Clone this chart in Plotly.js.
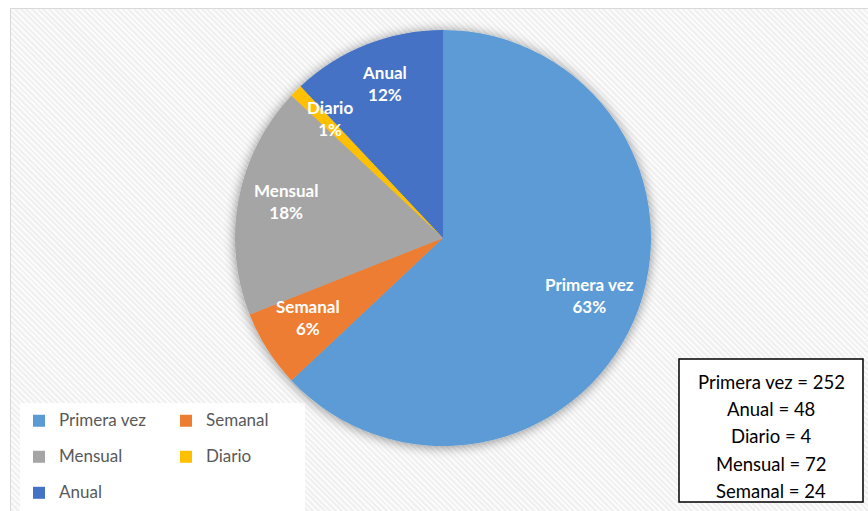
<!DOCTYPE html>
<html>
<head>
<meta charset="utf-8">
<script src="https://cdn.plot.ly/plotly-3.0.1.min.js"></script>
<style>
  html, body { margin: 0; padding: 0; width: 868px; height: 511px; overflow: hidden; background: #ffffff; }
  #bg {
    position: absolute; left: 10px; top: 8px; width: 870px; height: 515px;
    border-top: 1px solid #d9d9d9; border-left: 1px solid #d9d9d9;
    background: repeating-linear-gradient(45deg, #fbfbfb 0px, #fbfbfb 2px, #f0f0f0 2px, #f0f0f0 4px);
  }
  #chart { position: absolute; left: 0; top: 0; width: 868px; height: 511px; }
</style>
</head>
<body>
<div id="bg"></div>
<div id="chart"></div>
<script>
// ---- data ----
const categories = ['Primera vez', 'Semanal', 'Mensual', 'Diario', 'Anual'];
const counts = [252, 24, 72, 4, 48];
const colors = ['#5B9BD5', '#ED7D31', '#A5A5A5', '#FFC000', '#4472C4'];
const boxOrder = ['Primera vez', 'Anual', 'Diario', 'Mensual', 'Semanal'];

// ---- layout helpers (pixel -> paper) ----
const W = 868, H = 511;
const M = { l: 235, r: 217, t: 30, b: 65 };
const PW = W - M.l - M.r, PH = H - M.t - M.b;
const X = px => (px - M.l) / PW;
const Y = py => (H - M.b - py) / PH;

const total = counts.reduce((a, b) => a + b, 0);

// slice labels placed along each slice's mid-angle
const annotations = [];
let cum = 0;
counts.forEach((v, i) => {
  const mid = (cum + v / 2) / total * 2 * Math.PI;
  cum += v;
  const f = 0.77;
  annotations.push({
    xref: 'paper', yref: 'paper',
    x: 0.5 + f * 0.5 * Math.sin(mid),
    y: 0.5 + f * 0.5 * Math.cos(mid),
    yshift: 6,
    text: '<b>' + categories[i] + '</b><br><b>' + Math.round(v / total * 100) + '%</b>',
    showarrow: false,
    font: { family: 'Lato', size: 17, color: '#ffffff' },
    xanchor: 'center', yanchor: 'middle'
  });
});

// text box lines
boxOrder.forEach((name, i) => {
  const v = counts[categories.indexOf(name)];
  annotations.push({
    xref: 'paper', yref: 'paper',
    x: X(771), y: Y(382 + i * 27.2),
    text: name + ' = ' + v,
    showarrow: false,
    font: { family: 'Lato', size: 18.5, color: '#000000' },
    xanchor: 'center', yanchor: 'middle'
  });
});

const shapes = [
  { type: 'rect', xref: 'paper', yref: 'paper', layer: 'below',
    x0: X(20), x1: X(305), y0: Y(520), y1: Y(403),
    fillcolor: '#ffffff', line: { width: 0 } },
  { type: 'rect', xref: 'paper', yref: 'paper', layer: 'above',
    x0: X(679), x1: X(863), y0: Y(502), y1: Y(359),
    fillcolor: '#ffffff', line: { color: '#000000', width: 1.5 } }
];

const trace = {
  type: 'pie',
  labels: categories.map(c => '<span style="font-size:17px">' + c + '</span><br> '),
  values: counts,
  sort: false,
  direction: 'clockwise',
  rotation: 0,
  marker: { colors: colors, line: { width: 0 } },
  textinfo: 'none',
  hoverinfo: 'skip',
  domain: { x: [0, 1], y: [0, 1] }
};

const layout = {
  width: W, height: H,
  margin: { l: M.l, r: M.r, t: M.t, b: M.b, autoexpand: false },
  paper_bgcolor: 'rgba(0,0,0,0)',
  plot_bgcolor: 'rgba(0,0,0,0)',
  showlegend: true,
  legend: {
    orientation: 'h',
    x: X(19), xanchor: 'left',
    y: Y(406), yanchor: 'top',
    entrywidth: 102, entrywidthmode: 'pixels',
    valign: 'top',
    bgcolor: 'rgba(0,0,0,0)',
    font: { family: 'Lato', size: 12.7, color: '#595959' }
  },
  annotations: annotations,
  shapes: shapes
};

Plotly.newPlot('chart', [trace], layout, { displayModeBar: false, staticPlot: true }).then(gd => {
  const svg = gd.querySelector('svg.main-svg');
  const ns = 'http://www.w3.org/2000/svg';
  let defs = svg.querySelector('defs');
  if (!defs) { defs = document.createElementNS(ns, 'defs'); svg.insertBefore(defs, svg.firstChild); }
  const filt = document.createElementNS(ns, 'filter');
  filt.setAttribute('id', 'pieShadow');
  filt.setAttribute('x', '-20%'); filt.setAttribute('y', '-20%');
  filt.setAttribute('width', '140%'); filt.setAttribute('height', '140%');
  filt.innerHTML = '<feGaussianBlur in="SourceAlpha" stdDeviation="6"/>' +
    '<feOffset dx="0" dy="1" result="ob"/>' +
    '<feComponentTransfer><feFuncA type="linear" slope="0.45"/></feComponentTransfer>' +
    '<feMerge><feMergeNode/><feMergeNode in="SourceGraphic"/></feMerge>';
  defs.appendChild(filt);
  const pl = svg.querySelector('g.pielayer');
  if (pl) pl.setAttribute('filter', 'url(#pieShadow)');
});
</script>
</body>
</html>
